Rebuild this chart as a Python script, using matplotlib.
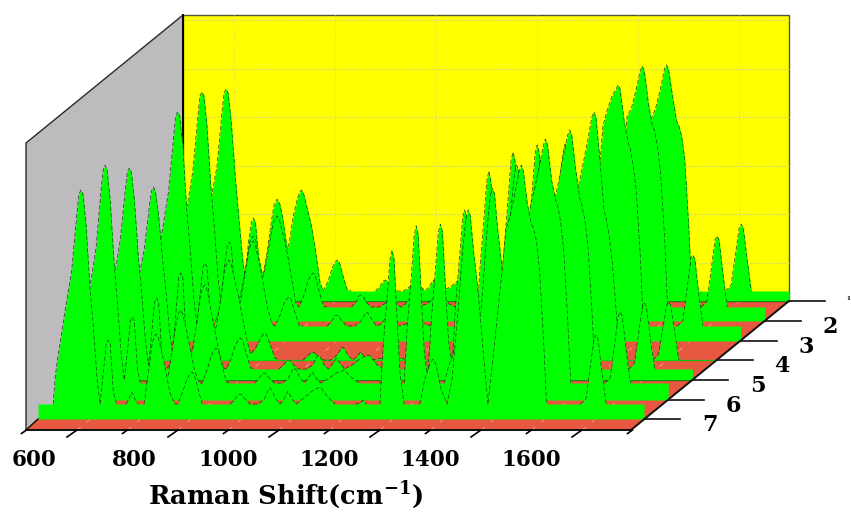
import numpy as np
import matplotlib
matplotlib.use('Agg')
import matplotlib.pyplot as plt
from matplotlib.patches import Polygon
from matplotlib.transforms import Affine2D

plt.rcParams['font.family'] = ['DejaVu Serif', 'Liberation Serif']
plt.rcParams['mathtext.fontset'] = 'custom'
plt.rcParams['mathtext.bf'] = 'DejaVu Serif:bold'

# Raman shift of the outline vertices, shared by all spectra
shift = [600,630,634,638,651,667,677,681,685,689,695,703,709,717,723,
         729,735,739,743,749,
         755,758,766,774,780,786,792,798,806,810,818,826,830,834,838,846,854,862,871,
         877,887,895,901,905,909,917,925,933,941,
         961,981,990,996,1000,1004,1010,1020,1036,1048,1056,1059,1063,1071,1079,1087,1095,1103,1111,1129,1143,1154,1158,1162,1174,1188,1208,
         1228,1238,1244,1250,1267,
         1277,1283,1291,1297,1301,1305,1311,1317,1325,
         1333,1356,1366,1376,1382,1388,1398,1410,
         1420,1432,1442,1448,1452,1456,1462,1472,1482,1491,
         1505,1519,1527,1535,1545,1553,1557,1561,1569,1577,1581,1587,1593,1601,1607,
         1614,1674,1685,1693,1701,1705,1709,1717,1725,1762,1800]

spectrum_1 = [10,10,28,45,90,135,190,208,212,208,180,125,90,45,22,
              58,79,83,79,45,
              18,26,48,78,96,102,96,80,52,58,85,102,108,111,108,92,75,50,18,
              10,20,33,39,41,39,24,11,10,10,
              10,10,15,20,21,20,15,10,10,14,19,20,19,14,10,14,21,14,10,14,20,22,23,22,14,10,10,
              10,10,10,10,10,
              10,60,110,148,156,148,92,40,10,
              10,10,25,40,45,40,22,10,
              15,60,92,106,110,106,90,65,38,15,
              70,140,182,192,212,232,236,232,205,180,176,165,142,75,10,
              10,10,16,45,73,77,73,40,10,10,10]
spectrum_2 = [14,14,30,50,100,150,205,225,229,225,195,132,98,42,16,
              52,75,79,75,38,
              14,18,38,62,80,85,80,62,44,52,76,98,102,105,102,86,68,44,18,
              14,26,40,46,48,46,30,15,14,14,
              14,14,19,25,26,25,19,14,14,18,24,25,24,17,14,17,22,17,14,17,22,24,25,24,17,14,14,
              14,14,14,14,14,
              14,70,120,160,169,160,100,45,14,
              14,14,30,45,50,45,28,14,
              25,80,128,148,154,148,125,90,50,20,
              80,160,205,212,232,250,255,250,218,195,191,175,150,85,14,
              14,14,20,50,81,85,81,46,14,14,14]
spectrum_3 = [15,15,35,55,100,150,205,225,229,225,195,130,96,42,16,
              45,74,78,74,30,
              15,18,28,45,62,68,62,45,35,40,65,90,97,100,97,80,58,35,18,
              15,25,37,42,44,42,29,16,15,15,
              15,15,20,25,26,25,20,15,15,20,27,29,27,20,15,17,22,17,15,16,18,20,20,20,17,15,15,
              15,15,15,15,15,
              15,70,120,160,170,160,100,45,15,
              15,15,30,45,50,45,28,15,
              30,100,165,188,197,188,158,116,60,22,
              85,165,215,230,245,252,256,252,220,198,193,175,150,85,15,
              15,15,20,50,82,86,82,46,15,15,15]
spectrum_4 = [0,0,15,30,70,112,155,169,173,168,145,100,72,28,5,
              45,83,87,83,25,
              5,5,15,35,55,60,55,38,28,35,62,90,97,100,97,80,62,40,18,
              6,12,20,25,27,25,14,2,0,0,
              0,0,4,7,8,7,4,0,0,5,11,13,11,4,0,3,8,3,0,1,3,5,5,5,2,0,0,
              0,0,0,0,0,
              0,55,103,142,150,142,88,35,0,
              0,0,20,38,42,38,20,0,
              15,95,165,190,200,190,160,118,62,15,
              70,135,175,195,220,243,248,243,200,150,142,125,100,50,0,
              0,0,6,30,55,58,55,28,0,0,0]
spectrum_5 = [11,11,28,45,90,140,190,208,212,208,180,122,90,38,15,
              45,78,82,78,28,
              11,11,16,30,46,50,46,30,25,30,55,85,92,95,92,72,50,30,12,
              11,22,35,40,42,40,26,12,11,11,
              11,11,15,19,20,19,15,11,11,15,23,25,23,15,11,16,22,16,11,16,22,24,25,24,16,11,11,
              11,11,11,11,11,
              11,60,110,148,156,148,92,40,11,
              11,11,30,45,50,45,28,11,
              30,105,178,208,215,208,175,130,70,25,
              75,140,180,198,225,245,250,245,210,182,175,160,135,70,11,
              11,11,17,45,73,77,73,40,11,11,11]
spectrum_6 = [17,17,35,55,100,152,210,230,235,230,200,135,100,45,20,
              48,79,83,79,30,
              17,17,17,22,36,40,36,25,22,25,52,78,86,90,87,70,50,30,17,
              17,30,44,50,52,50,34,18,17,17,
              17,17,22,26,27,26,22,17,17,22,30,32,30,22,17,22,28,22,17,22,27,29,30,28,22,17,17,
              17,18,22,17,17,
              17,72,122,165,174,165,104,48,17,
              17,17,35,50,55,50,30,17,
              35,105,175,206,212,206,172,128,68,20,
              80,150,195,210,235,255,261,255,220,200,195,178,150,80,17,
              17,17,22,52,84,88,84,48,17,17,17]
spectrum_7 = [15,15,42,57,100,150,205,225,229,225,195,130,96,40,15,
              45,75,79,75,28,
              15,15,15,15,20,27,20,15,15,15,45,75,82,85,82,65,45,25,15,
              15,28,40,45,47,45,30,15,15,15,
              15,15,20,24,25,24,20,15,15,20,29,31,29,20,15,20,28,20,15,22,28,31,32,30,22,15,15,
              15,16,19,15,15,
              15,70,120,160,169,160,100,45,15,
              15,15,40,55,60,55,30,15,
              40,110,175,203,209,203,170,125,65,15,
              80,149,190,203,228,248,254,248,215,195,191,178,150,80,15,
              15,15,20,50,80,84,80,45,15,15,15]
spectra = [spectrum_1, spectrum_2, spectrum_3, spectrum_4, spectrum_5, spectrum_6, spectrum_7]

x_ticks = [600, 700, 800, 900, 1000, 1100, 1200, 1300, 1400, 1500, 1600, 1700, 1800]
x_labels = [600, 800, 1000, 1200, 1400, 1600]
layer_labels = ['1', '2', '3', '4', '5', '6', '7']
base_colors = ['#202010', '#E8573F', '#E8573F', '#10C010', '#202010', '#E8573F', '#E8573F']

px_per_cm = 0.505
layer_x = [183.2, 159, 134.8, 110.6, 86.4, 62.2, 38]
layer_y = [301, 321, 341, 360, 380, 400, 419]

GREEN = '#00FF00'
RED = '#E8573F'

fig = plt.figure(figsize=(8.51, 5.13), dpi=100)
ax = fig.add_axes([0, 0, 1, 1])
ax.set_xlim(0, 851)
ax.set_ylim(513, 0)
ax.axis('off')

# walls and floor of the box
ax.add_patch(Polygon([(183, 15), (789, 15), (789, 301), (183, 301)], fc='#FFFF00', ec='#555533', lw=1, zorder=1))
ax.add_patch(Polygon([(26, 430), (26, 143), (183, 15), (183, 301)], fc='#BDBBBD', ec='#2A2A2A', lw=1, zorder=1))
ax.plot([183, 183], [15, 301], color='black', lw=1.4, zorder=2)
ax.add_patch(Polygon([(26, 430), (631, 430), (789, 301), (183, 301)], fc=RED, ec='none', zorder=2))

# back wall grid
for yg in [20, 69, 117, 166, 214, 263]:
    ax.plot([183, 789], [yg, yg], color='#DCDC60', lw=0.9, ls=(0, (2, 1)), zorder=1.5)
for c in x_ticks[1::2]:
    xg = 183 + (c - 600) * px_per_cm
    ax.plot([xg, xg], [15, 301], color='#DCDC60', lw=0.8, ls=(0, (1, 2)), zorder=1.5)

# floor grid
for c in x_ticks[1:-1]:
    xf = 26.5 + (c - 600) * px_per_cm
    ax.plot([xf, xf + 157.5], [430, 301], color='#F2A898', lw=0.6, ls=(0, (6, 9)), zorder=2.1)

# spectra, back to front
for i, spec in enumerate(spectra):
    s = np.array(shift) - 600.0
    h = np.array(spec, dtype=float)
    tr = Affine2D().scale(px_per_cm, -1).translate(layer_x[i], layer_y[i]) + ax.transData
    z = 3 + i
    ax.plot([0, 1200], [0, 0], transform=tr, color=base_colors[i], lw=0.9, zorder=z)
    ax.fill_between(s, 0, h, transform=tr, color=GREEN, lw=0, zorder=z + 0.1)
    # outline only on the peaks, the flat band has none
    flat = (h == h[0]) & (np.roll(h, 1) == h[0]) & (np.roll(h, -1) == h[0])
    ax.plot(s, np.ma.masked_where(flat, h), transform=tr, color='#0A4A0A', lw=0.5,
            ls=(0, (6, 3)), zorder=z + 0.2)

# floor edges
ax.plot([26, 631], [430, 430], color='#101010', lw=1.4, zorder=12)
ax.plot([631, 789], [430, 301], color='#101010', lw=1.4, zorder=12)
ax.plot([26, 38], [430, 419], color='#101010', lw=1, zorder=12)

# x ticks, short at the labelled values
for j, c in enumerate(x_ticks):
    xt = 26.5 + (c - 600) * px_per_cm
    dx, dy = (-5, 3.5) if j % 2 == 0 else (-10, 7)
    ax.plot([xt, xt + dx], [430, 430 + dy], color='black', lw=1.2, zorder=12)
for c in x_labels:
    ax.text(26.5 + (c - 600) * px_per_cm + 29.5, 460, str(c), ha='right', va='center',
            fontsize=15.5, fontweight='bold', color='black')

# layer ticks and labels, the first one only just shows at the right edge
for i, lab in enumerate(layer_labels):
    xr = layer_x[i] + 1200 * px_per_cm
    ax.plot([xr, xr + 36], [layer_y[i], layer_y[i]], color='#101010', lw=1.2, zorder=12)
    if i == 0:
        ax.text(850.5, 298, lab, ha='right', va='center', fontsize=4, fontweight='bold', color='black')
    else:
        ax.text(xr + 65.5, layer_y[i] + 6, lab, ha='center', va='center', fontsize=16,
                fontweight='bold', color='black')

ax.text(286, 495, 'Raman Shift(cm$^{\\mathbf{-1}}$)', ha='center', va='center', fontsize=18.5,
        fontweight='bold', color='black')

fig.savefig('out.png', dpi=100)
